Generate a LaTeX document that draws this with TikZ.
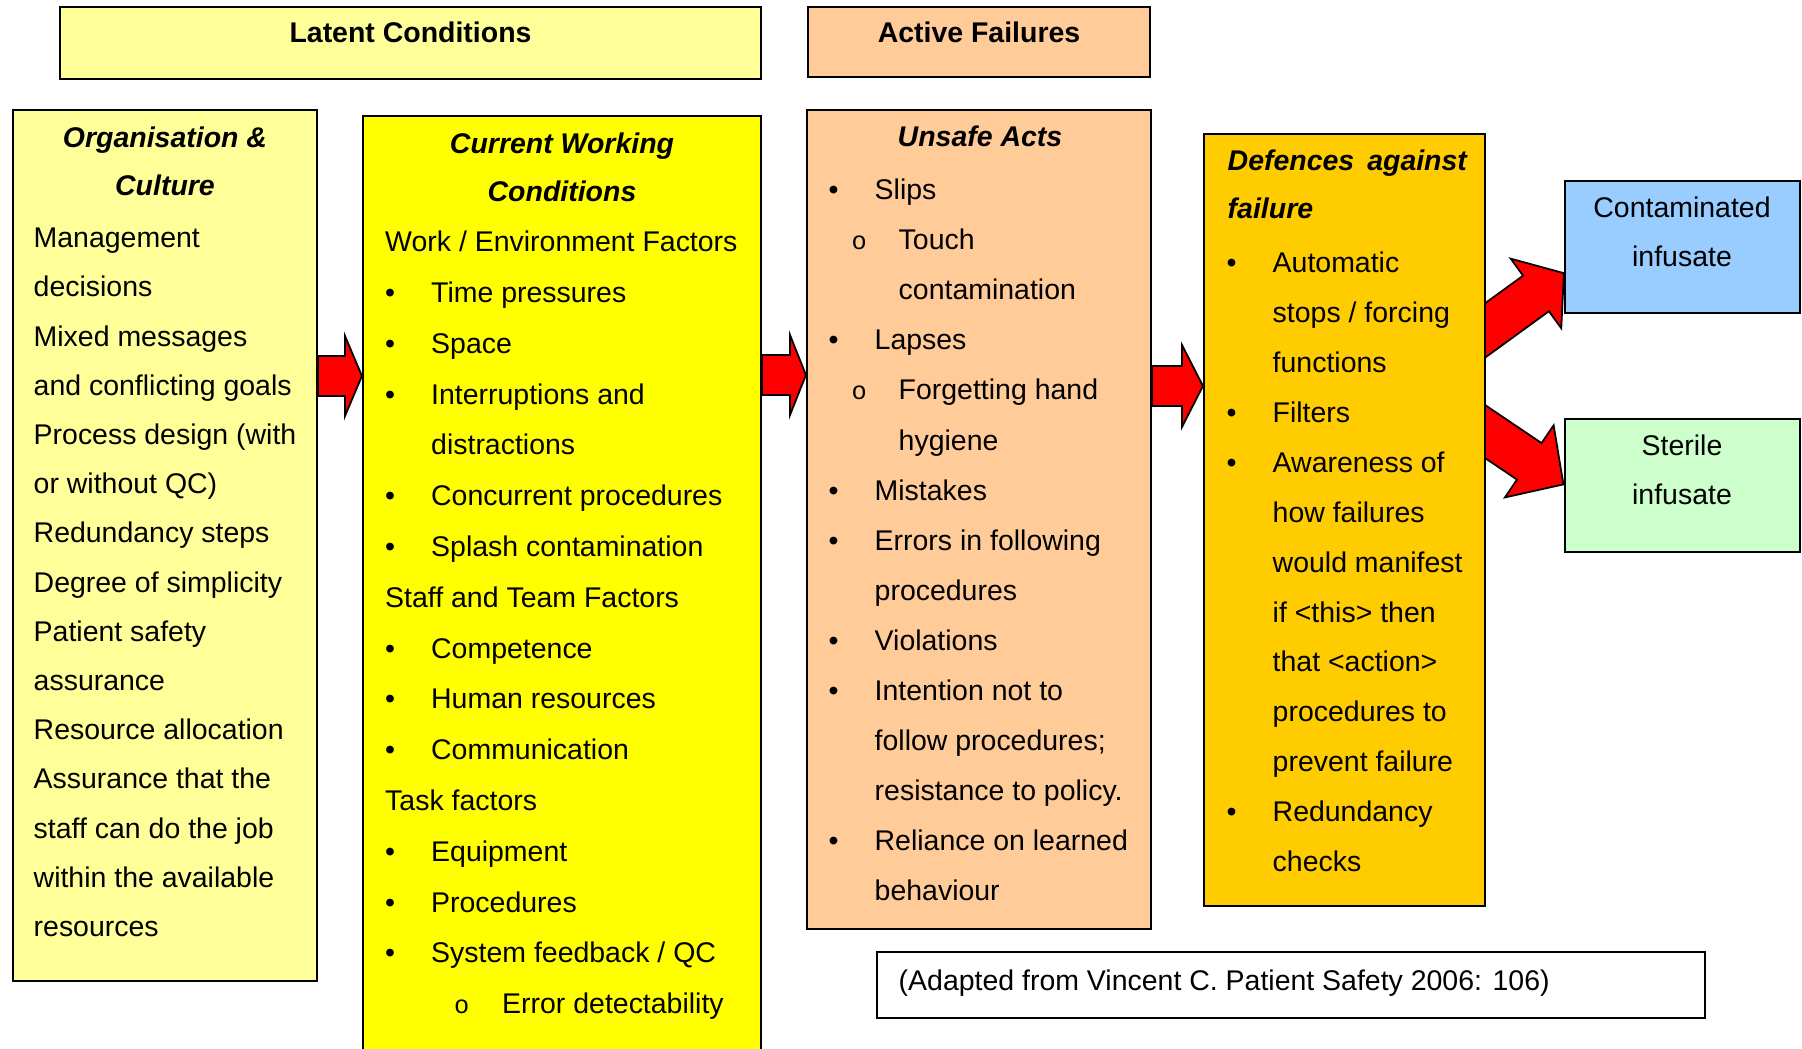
\documentclass[tikz,border=0pt]{standalone}
\usepackage{fontspec}
\setmainfont{Liberation Sans}
\newfontfamily\circfont{Liberation Mono}
\usepackage{tikz}
\usetikzlibrary{backgrounds}
\definecolor{paleyellow}{HTML}{FFFF99}
\definecolor{brightyellow}{HTML}{FFFF00}
\definecolor{peach}{HTML}{FFCC99}
\definecolor{gold}{HTML}{FFCC00}
\definecolor{skyblue}{HTML}{99CCFF}
\definecolor{mintgreen}{HTML}{CCFFCC}
\newcommand{\fs}[1]{\fontsize{8.1pt}{#1}\selectfont}
\newcommand{\bul}{\makebox[0.46cm][l]{\textbullet}}
\newcommand{\cnt}{\hspace*{0.46cm}}
\newcommand{\subbul}[2]{\hspace*{#1}\makebox[#2][l]{\circfont\fontsize{7.2pt}{7.2pt}\selectfont o}}
\tikzset{
	box/.style={draw,line width=0.6pt,inner sep=0pt},
	txt/.style={inner sep=0pt,align=left,anchor=north west},
	ttl/.style={inner sep=0pt,align=center,anchor=north,font=\fs{13.6pt}\bfseries\itshape},
	redarrow/.style={fill=red,draw=black,line width=0.5pt,line join=miter}
}

\begin{document}
\begin{tikzpicture}
	\useasboundingbox (0,0) rectangle (18.02,-10.49);
	\clip (0,0) rectangle (18.02,-10.49);
	% boxes
	\node[box,fill=paleyellow,minimum width=7.01cm,minimum height=0.72cm] (latent) at (4.105,-0.43) {};
	\node[box,fill=peach,minimum width=3.42cm,minimum height=0.70cm] (active) at (9.79,-0.42) {};
	\node[box,fill=paleyellow,minimum width=3.04cm,minimum height=8.71cm] (org) at (1.65,-5.455) {};
	\node[box,fill=brightyellow,minimum width=3.98cm,minimum height=9.44cm] (cwc) at (5.62,-5.88) {};
	\node[box,fill=peach,minimum width=3.44cm,minimum height=8.19cm] (unsafe) at (9.79,-5.195) {};
	\node[box,fill=gold,minimum width=2.81cm,minimum height=7.72cm] (defences) at (13.445,-5.20) {};
	\node[box,fill=skyblue,minimum width=2.35cm,minimum height=1.32cm] (contam) at (16.825,-2.47) {};
	\node[box,fill=mintgreen,minimum width=2.35cm,minimum height=1.33cm] (sterile) at (16.825,-4.855) {};
	\node[box,fill=white,minimum width=8.28cm,minimum height=0.66cm] (source) at (12.91,-9.85) {};

	% headings
	\node[anchor=base,font=\fs{14pt}\bfseries] (latentttl) at (4.105,-0.43) {Latent Conditions};
	\node[anchor=base,font=\fs{14pt}\bfseries] (activettl) at (9.79,-0.43) {Active Failures};
	\node[ttl] (orgttl) at (1.65,-1.135) {\strut Organisation \&\\Culture};
	\node[ttl] (cwcttl) at (5.62,-1.195) {\strut Current Working\\Conditions};
	\node[anchor=base,font=\fs{14pt}\bfseries\itshape] (unsafettl) at (9.80,-1.47) {Unsafe Acts};
	\node[ttl,align=left,anchor=north west] (defttl) at (12.27,-1.365) {\strut Defences\hspace{0.13cm}against\\failure};

	% lists
	\node[txt,font=\fs{14pt}] (orgtext) at (0.33,-2.126) {\strut Management\\
		decisions\\
		Mixed messages\\
		and conflicting goals\\
		Process design (with\\
		or without QC)\\
		Redundancy steps\\
		Degree of simplicity\\
		Patient safety\\
		assurance\\
		Resource allocation\\
		Assurance that the\\
		staff can do the job\\
		within the available\\
		resources};
	\node[txt,font=\fs{14.45pt}] (cwctext) at (3.845,-2.156) {\strut Work / Environment Factors\\
		\bul Time pressures\\
		\bul Space\\
		\bul Interruptions and\\
		\cnt distractions\\
		\bul Concurrent procedures\\
		\bul Splash contamination\\
		Staff and Team Factors\\
		\bul Competence\\
		\bul Human resources\\
		\bul Communication\\
		Task factors\\
		\bul Equipment\\
		\bul Procedures\\
		\bul System feedback / QC\\
		\subbul{0.69cm}{0.48cm}Error detectability};
	\node[txt,font=\fs{14.25pt}] (unsafetext) at (8.28,-1.639) {\strut\bul Slips\\
		\subbul{0.23cm}{0.47cm}Touch\\
		\hspace*{0.70cm}contamination\\
		\bul Lapses\\
		\subbul{0.23cm}{0.47cm}Forgetting hand\\
		\hspace*{0.70cm}hygiene\\
		\bul Mistakes\\
		\bul Errors in following\\
		\cnt procedures\\
		\bul Violations\\
		\bul Intention not to\\
		\cnt follow procedures;\\
		\cnt resistance to policy.\\
		\bul Reliance on learned\\
		\cnt behaviour};
	\node[txt,font=\fs{14.2pt}] (deftext) at (12.26,-2.371) {\strut\bul Automatic\\
		\cnt stops / forcing\\
		\cnt functions\\
		\bul Filters\\
		\bul Awareness of\\
		\cnt how failures\\
		\cnt would manifest\\
		\cnt if <this> then\\
		\cnt that <action>\\
		\cnt procedures to\\
		\cnt prevent failure\\
		\bul Redundancy\\
		\cnt checks};
	\node[txt,align=center,anchor=north,font=\fs{14pt}] (contamtext) at (16.82,-1.826) {\strut Contaminated\\infusate};
	\node[txt,align=center,anchor=north,font=\fs{14pt}] (steriletext) at (16.82,-4.206) {\strut Sterile\\infusate};
	\node[anchor=base west,inner sep=0pt,font=\fs{14pt}] (sourcetext) at (8.98,-9.90) {(Adapted from Vincent C. Patient Safety 2006: 106)};

	% block arrows
	\begin{scope}[on background layer]
		\draw[redarrow] (org.east |- 0,-3.56) -- (3.45,-3.56) -- (3.45,-3.36) -- (cwc.west |- 0,-3.76) -- (3.45,-4.16) -- (3.45,-3.96) -- (org.east |- 0,-3.96) -- cycle;
		\draw[redarrow] (cwc.east |- 0,-3.55) -- (7.90,-3.55) -- (7.90,-3.35) -- (unsafe.west |- 0,-3.75) -- (7.90,-4.15) -- (7.90,-3.95) -- (cwc.east |- 0,-3.95) -- cycle;
		\draw[redarrow] (unsafe.east |- 0,-3.66) -- (11.82,-3.66) -- (11.82,-3.45) -- (defences.west |- 0,-3.86) -- (11.82,-4.27) -- (11.82,-4.06) -- (unsafe.east |- 0,-4.06) -- cycle;
		\begin{scope}[shift={(14.85,-3.305)},rotate=36]
			\draw[redarrow] (-0.3,0.22) -- (0.63,0.22) -- (0.63,0.43) -- (0.975,0) -- (0.63,-0.43) -- (0.63,-0.22) -- (-0.3,-0.22) -- cycle;
		\end{scope}
		\begin{scope}[shift={(14.85,-4.315)},rotate=-34]
			\draw[redarrow] (-0.3,0.22) -- (0.534,0.22) -- (0.534,0.435) -- (0.946,0) -- (0.534,-0.435) -- (0.534,-0.22) -- (-0.3,-0.22) -- cycle;
		\end{scope}
	\end{scope}
\end{tikzpicture}
\end{document}
